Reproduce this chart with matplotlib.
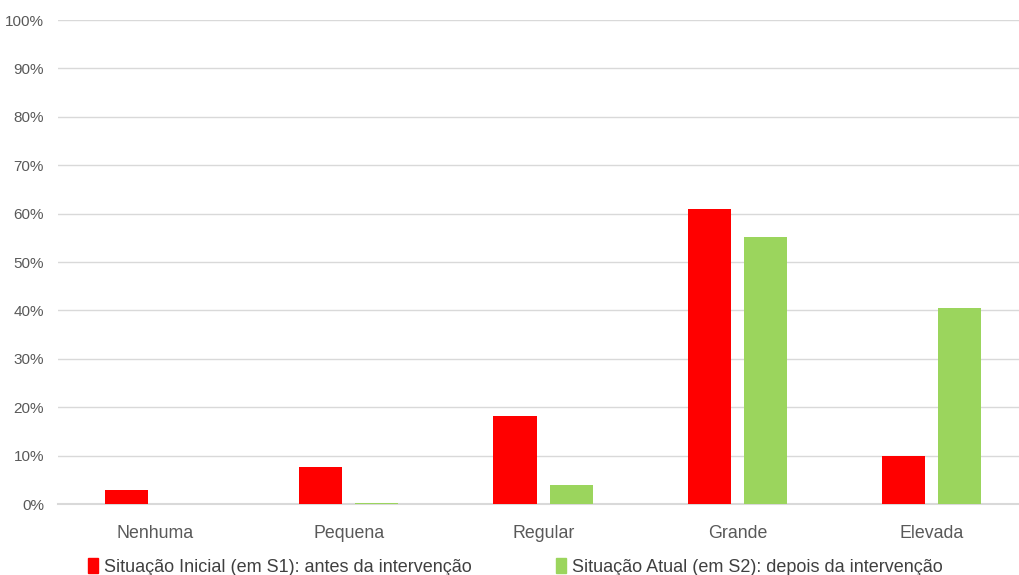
import matplotlib.pyplot as plt
import numpy as np
from matplotlib.patches import Patch

plt.rcParams['font.family'] = ['Liberation Sans', 'DejaVu Sans']

# dados
categorias = ['Nenhuma', 'Pequena', 'Regular', 'Grande', 'Elevada']
inicial = [2.9, 7.6, 18.2, 61.0, 9.9]
atual = [0.0, 0.3, 3.9, 55.2, 40.5]
serie_nomes = ['Situação Inicial (em S1): antes da intervenção',
               'Situação Atual (em S2): depois da intervenção']
cor_inicial = '#ff0000'
cor_atual = '#9bd55d'

fig = plt.figure(figsize=(10.2, 5.75), dpi=100)
# eixo ligeiramente mais largo que a figura (como no original)
ax = fig.add_axes([58 / 1020, 71 / 575, 971 / 1020, 484 / 575])

x = np.arange(len(categorias))
w = 0.222
ax.bar(x - 0.147, inicial, w, color=cor_inicial, zorder=3)
ax.bar(x + 0.142, atual, w, color=cor_atual, zorder=3)

ax.set_xlim(-0.5, len(categorias) - 0.5)
ax.set_ylim(0, 100)
ax.set_yticks(np.arange(0, 101, 10))
ax.set_yticklabels([f'{v}%' for v in range(0, 101, 10)])
ax.set_xticks(x)
ax.set_xticklabels(categorias)
ax.tick_params(axis='y', length=0, pad=10, labelsize=11, labelcolor='#595959')
ax.tick_params(axis='x', length=0, pad=15, labelsize=12.8, labelcolor='#595959')
ax.grid(axis='y', color='#d9d9d9', linewidth=1, zorder=0)
for s in ['top', 'right', 'left']:
    ax.spines[s].set_visible(False)
ax.spines['bottom'].set_color('#d9d9d9')
ax.spines['bottom'].set_linewidth(1.5)

handles = [Patch(color=cor_inicial), Patch(color=cor_atual)]
fig.legend(handles, serie_nomes, loc='center left', ncol=2,
           bbox_to_anchor=(72 / 1020, 8 / 575), frameon=False,
           fontsize=13, labelcolor='#404040', handlelength=0.55,
           handleheight=0.9, handletextpad=0.3, columnspacing=4.7)

plt.savefig('out.png', dpi=100)
